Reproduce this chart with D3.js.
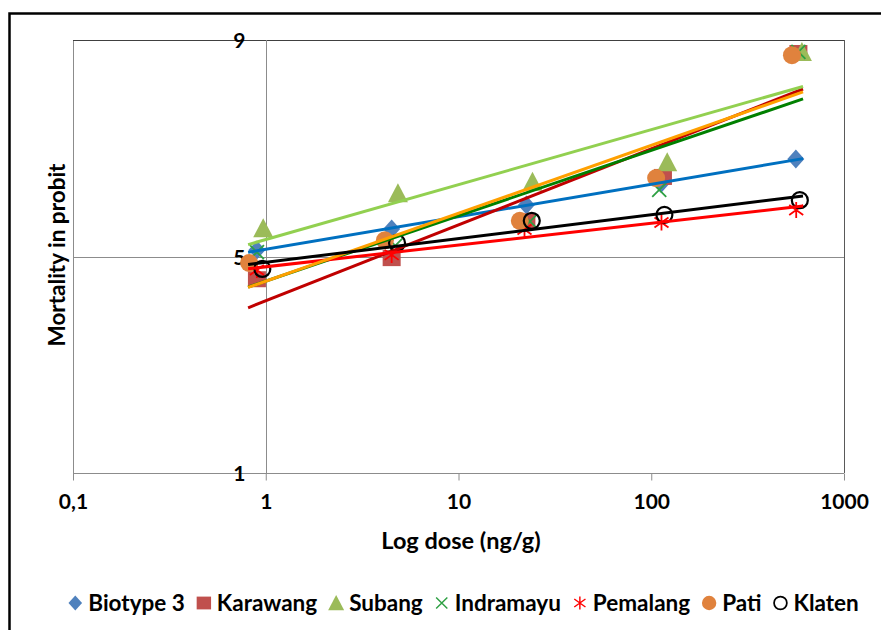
<!DOCTYPE html>
<html><head><meta charset="utf-8">
<script src="https://cdn.jsdelivr.net/npm/d3@7"></script>
<style>
html,body{margin:0;padding:0;background:#fff;}
svg text{font-family:Lato,"Open Sans",sans-serif;font-weight:bold;fill:#000;}
</style></head>
<body><svg id="c" width="881" height="630"></svg>
<script>
// ---- data ----
const seriesNames = ["Biotype 3","Karawang","Subang","Indramayu","Pemalang","Pati","Klaten"];
const doseBiotype3 = [0.9, 4.5, 22.5, 112.5, 562.5];
const doseKarawang = [0.9, 4.5, 22.5, 115, 580];
const doseSubang   = [0.97, 4.85, 24.2, 121, 605];
const doseIndramayu= [0.9, 4.7, 23.5, 110, 580];
const dosePemalang = [0.9, 4.5, 22, 113, 565];
const dosePati     = [0.82, 4.15, 20.8, 106, 537];
const doseKlaten   = [0.96, 4.8, 24, 117, 590];
const probitBiotype3 = [5.12, 5.51, 5.95, 6.35, 6.80];
const probitKarawang = [4.58, 4.97, 5.65, 6.47, 8.76];
const probitSubang   = [5.52, 6.17, 6.38, 6.74, 8.78];
const probitIndramayu= [5.08, 5.20, 5.65, 6.23, 8.78];
const probitPemalang = [4.75, 5.03, 5.50, 5.63, 5.86];
const probitPati     = [4.88, 5.30, 5.66, 6.45, 8.72];
const probitKlaten   = [4.77, 5.25, 5.66, 5.77, 6.04];
const trendExtent = [0.81, 613];
const xTicks = [0.1, 1, 10, 100, 1000];
const xTickLabels = ["0,1", "1", "10", "100", "1000"];
const yTicks = [1, 5, 9];

const doses = [doseBiotype3, doseKarawang, doseSubang, doseIndramayu, dosePemalang, dosePati, doseKlaten];
const probits = [probitBiotype3, probitKarawang, probitSubang, probitIndramayu, probitPemalang, probitPati, probitKlaten];

// ---- styles ----
const markerColor = ["#4F81BD","#C0504D","#9BBB59","#2EA043","#FF0000","#E0823D","#000000"];
const trendColor  = ["#0070C0","#C00000","#92D050","#008000","#FF0000","#FFA000","#000000"];
const markerType  = ["diamond","square","triangle","x","star","circle","ocircle"];

const svg = d3.select("#c");
const L = 73, R = 844, T = 40, B = 473;
const x = d3.scaleLog().domain([0.1, 1000]).range([L, R]);
const y = d3.scaleLinear().domain([1, 9]).range([B, T]);

svg.append("rect").attr("width",881).attr("height",630).attr("fill","#fff");
// outer chart border
svg.append("rect").attr("x",9.5).attr("y",13.5).attr("width",900).attr("height",700)
  .attr("fill","none").attr("stroke","#000").attr("stroke-width",2.5);

// plot area border
svg.append("line").attr("x1",L+0.5).attr("x2",L+0.5).attr("y1",T).attr("y2",B).attr("stroke","#8c8c8c");
svg.append("line").attr("x1",L).attr("x2",R).attr("y1",T+0.5).attr("y2",T+0.5).attr("stroke","#404040");
svg.append("line").attr("x1",R+0.5).attr("x2",R+0.5).attr("y1",T).attr("y2",B).attr("stroke","#595959");

// gridline at 5
svg.append("line").attr("x1",L).attr("x2",R).attr("y1",Math.round(y(5))+0.5).attr("y2",Math.round(y(5))+0.5)
  .attr("stroke","#8c8c8c");

// x axis (at y=1)
const xAxis = d3.axisBottom(x).tickValues(xTicks).tickFormat((d,i)=>xTickLabels[i]).tickSize(7).tickPadding(14);
const gx = svg.append("g").attr("transform",`translate(0,${B+0.5})`).call(xAxis);
gx.select(".domain").attr("stroke","#8c8c8c").attr("d",`M${L},0H${R}`);
gx.selectAll(".tick line").attr("stroke","#8c8c8c");
gx.selectAll("text").attr("font-size",21).attr("font-family","Lato").attr("font-weight","bold").attr("fill","#000");

// y axis (crossing at x=1)
const yAxis = d3.axisLeft(y).tickValues(yTicks).tickSize(0).tickPadding(21).tickFormat(d3.format("d"));
const gy = svg.append("g").attr("transform",`translate(${Math.round(x(1))+0.5},0)`).call(yAxis);
gy.select(".domain").attr("stroke","#8c8c8c").attr("d",`M0,${T}V${B}`);
gy.selectAll("text").attr("font-size",21).attr("font-family","Lato").attr("font-weight","bold").attr("fill","#000").attr("dy","0.36em");

// markers
function sym(type, sel, color){
  if(type==="diamond") sel.append("path").attr("d","M0,-9.5L8.5,0L0,9.5L-8.5,0Z").attr("fill",color);
  else if(type==="square") sel.append("rect").attr("x",-9).attr("y",-8).attr("width",18).attr("height",16).attr("fill",color);
  else if(type==="triangle") sel.append("path").attr("d","M0,-10L10,9L-10,9Z").attr("fill",color);
  else if(type==="x") sel.append("path").attr("d","M-7,-7L7,7M7,-7L-7,7").attr("stroke",color).attr("stroke-width",1.8).attr("fill","none");
  else if(type==="star") sel.append("path").attr("d","M0,-8V8M-7,-5L7,5M7,-5L-7,5").attr("stroke",color).attr("stroke-width",1.8).attr("fill","none");
  else if(type==="circle") sel.append("circle").attr("r",9).attr("fill",color);
  else if(type==="ocircle") sel.append("circle").attr("r",8).attr("fill","none").attr("stroke",color).attr("stroke-width",2.2);
}
const markersG = svg.append("g");
seriesNames.forEach((name,i)=>{
  doses[i].forEach((d,j)=>{
    const g = markersG.append("g").attr("transform",`translate(${x(d)},${y(probits[i][j])})`);
    sym(markerType[i], g, markerColor[i]);
  });
});

// logarithmic trendlines (least squares on log10 dose)
const trendG = svg.append("g");
seriesNames.forEach((name,i)=>{
  const lx = doses[i].map(Math.log10), ys = probits[i];
  const mx = d3.mean(lx), my = d3.mean(ys);
  const b = d3.sum(lx.map((v,k)=>(v-mx)*(ys[k]-my))) / d3.sum(lx.map(v=>(v-mx)*(v-mx)));
  const a = my - b*mx;
  const pts = trendExtent.map(d=>[x(d), y(a + b*Math.log10(d))]);
  trendG.append("path").attr("d", d3.line()(pts)).attr("stroke",trendColor[i]).attr("stroke-width",3).attr("fill","none");
});

// axis titles
svg.append("text").attr("x",461).attr("y",549).attr("text-anchor","middle").attr("font-size",23.5).text("Log dose (ng/g)");
svg.append("text").attr("transform","translate(65,255) rotate(-90)").attr("text-anchor","middle").attr("font-size",22.5).text("Mortality in probit");

// legend
const lg = svg.append("g");
let cx = 0;
seriesNames.forEach((name,i)=>{
  const g = lg.append("g");
  const sg = g.append("g").attr("transform","scale(0.8)");
  sym(markerType[i], sg, markerColor[i]);
  const t = g.append("text").attr("x",13).attr("y",7.5).attr("font-size",22.5).text(name);
  const w = t.node().getComputedTextLength();
  g.attr("transform",`translate(${cx},0)`);
  cx += 13 + w + 19;
});
const total = cx - 19;
lg.attr("transform",`translate(${460 - total/2 + 7},603)`);
</script></body></html>
